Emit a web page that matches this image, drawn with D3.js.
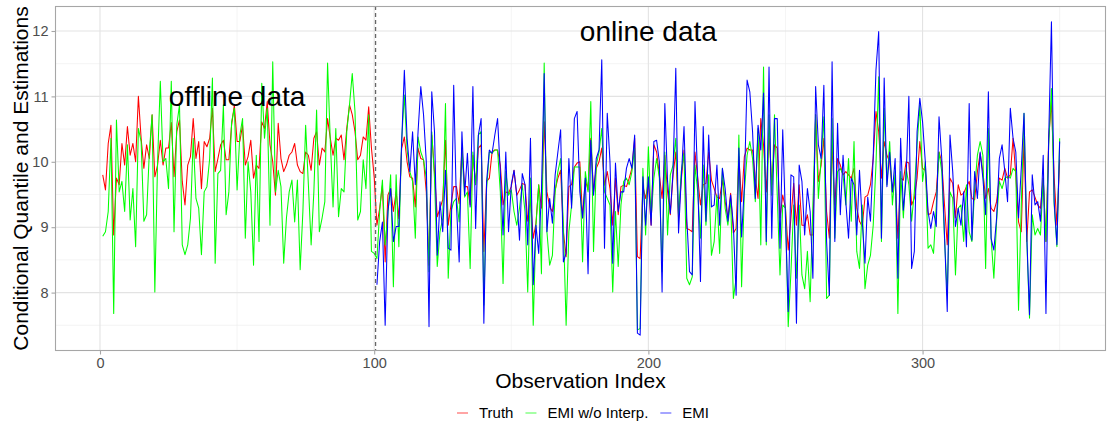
<!DOCTYPE html>
<html>
<head>
<meta charset="utf-8">
<script src="https://cdn.jsdelivr.net/npm/d3@7"></script>
<style>
  html, body { margin: 0; padding: 0; background: #fff; }
  svg { display: block; font-family: "Liberation Sans", Arial, Helvetica, sans-serif; }
</style>
</head>
<body>
<svg id="chart" width="1108" height="428"></svg>
<script>
// ---------------- data ----------------
const truth = [
  9.80, 9.57, 10.28, 10.56, 8.88, 9.75, 9.65, 10.28, 9.95, 10.54,
  10.10, 10.28, 10.00, 11.00, 10.36, 9.90, 10.26, 10.05, 10.72, 9.77,
  9.95, 10.33, 9.95, 10.21, 10.21, 10.60, 9.77, 10.46, 10.64, 9.70,
  9.34, 9.95, 10.08, 10.66, 10.05, 10.31, 9.59, 10.31, 10.23, 10.36,
  10.82, 9.85, 10.05, 10.26, 10.33, 10.03, 10.03, 10.56, 10.87, 10.31,
  10.31, 10.56, 9.95, 10.08, 10.33, 9.75, 9.95, 9.90, 10.61, 10.51,
  10.92, 10.26, 10.00, 9.49, 10.59, 10.05, 9.85, 9.95, 10.10, 10.15,
  10.28, 9.95, 9.85, 9.82, 10.15, 10.10, 9.87, 10.36, 10.46, 9.95,
  10.21, 10.15, 10.66, 10.36, 10.10, 10.36, 10.33, 10.41, 10.03, 10.51,
  10.87, 10.72, 10.46, 10.03, 10.10, 10.38, 10.33, 10.84, 10.21, 9.77,
  9.03, 9.29, 9.64, 8.47, 9.49, 9.59, 9.24, 9.54, 9.13, 10.20,
  10.38, 10.00, 9.77, 9.75, 9.31, 10.21, 10.05, 10.03, 9.54, 8.42,
  10.41, 9.85, 9.16, 9.29, 9.42, 10.33, 9.03, 9.34, 9.62, 9.62,
  9.36, 10.21, 9.62, 9.62, 9.34, 10.10, 9.65, 10.21, 10.26, 8.63,
  9.70, 9.75, 10.15, 10.18, 10.18, 9.95, 9.34, 9.54, 9.52, 9.62,
  9.87, 9.49, 9.57, 9.67, 9.65, 9.09, 9.44, 8.83, 9.06, 9.65,
  9.29, 10.61, 9.54, 9.31, 9.24, 9.57, 9.75, 9.87, 8.93, 8.55,
  9.62, 9.65, 9.92, 9.98, 10.00, 9.14, 9.72, 9.57, 10.36, 9.54,
  9.90, 10.00, 10.21, 9.64, 9.85, 9.59, 9.03, 9.75, 9.19, 9.62,
  9.64, 9.62, 9.75, 9.90, 10.36, 8.55, 8.52, 9.62, 9.44, 9.70,
  9.03, 10.26, 10.15, 9.80, 9.44, 10.10, 9.54, 9.19, 9.80, 10.15,
  9.14, 9.72, 10.18, 8.98, 8.96, 8.93, 10.15, 9.75, 9.34, 9.65,
  9.67, 10.15, 9.72, 9.59, 9.46, 9.44, 9.72, 9.39, 9.14, 9.52,
  8.91, 8.98, 10.08, 9.39, 10.08, 10.21, 10.18, 10.18, 9.75, 9.44,
  10.66, 10.26, 9.54, 10.44, 9.65, 10.26, 10.21, 9.14, 9.49, 9.29,
  8.65, 9.14, 9.67, 9.03, 9.65, 9.03, 9.03, 9.19, 8.88, 8.88,
  10.72, 9.70, 9.95, 10.36, 9.24, 8.83, 10.26, 9.34, 10.05, 9.95,
  9.80, 9.85, 9.80, 9.75, 9.90, 9.29, 9.09, 9.01, 9.46, 9.49,
  9.65, 10.05, 10.77, 10.46, 9.75, 10.31, 10.10, 10.00, 9.54, 9.75,
  8.83, 9.75, 9.72, 10.00, 9.98, 9.34, 9.44, 9.75, 10.31, 9.90,
  9.87, 9.19, 9.21, 9.39, 9.54, 10.15, 10.00, 9.34, 8.73, 9.75,
  9.67, 9.14, 9.65, 9.49, 9.52, 9.62, 9.70, 9.44, 9.42, 9.85,
  10.13, 9.85, 9.44, 9.59, 9.29, 9.24, 9.39, 9.75, 9.72, 9.90,
  9.75, 9.80, 10.36, 9.80, 9.08, 8.93, 10.36, 8.78, 9.54, 9.57,
  9.46, 9.34, 9.29, 9.75, 8.78, 10.36, 10.92, 9.75, 9.03, 10.03
];

const emiNoInterp = [
  8.86, 8.93, 9.24, 10.36, 7.68, 10.64, 9.54, 9.70, 9.24, 10.26,
  9.11, 9.59, 8.70, 10.51, 10.31, 9.09, 9.19, 10.15, 10.72, 8.01,
  10.00, 11.23, 10.00, 10.05, 9.59, 11.23, 8.93, 10.56, 10.87, 8.73,
  8.58, 8.73, 9.14, 10.36, 9.44, 9.29, 8.58, 9.54, 9.62, 10.05,
  11.28, 8.45, 9.82, 9.87, 10.87, 9.19, 9.54, 10.61, 10.82, 9.57,
  10.41, 10.66, 8.83, 10.00, 9.54, 8.42, 10.10, 8.78, 11.20, 10.36,
  10.82, 9.03, 11.53, 9.54, 9.87, 9.62, 8.45, 9.14, 9.54, 9.72,
  9.08, 9.72, 8.35, 9.24, 10.56, 9.65, 8.73, 9.54, 10.79, 8.93,
  9.14, 9.39, 11.51, 10.31, 9.31, 10.51, 9.16, 9.59, 9.54, 10.46,
  10.87, 11.35, 10.77, 9.11, 9.24, 10.03, 9.59, 10.72, 8.63, 8.60,
  8.52, 9.24, 9.72, 8.73, 9.19, 9.80, 8.09, 9.80, 8.70, 10.31,
  11.02, 10.18, 9.85, 9.70, 8.83, 10.38, 10.15, 10.03, 9.75, 8.32,
  10.46, 9.75, 8.40, 8.93, 9.14, 10.89, 8.22, 9.24, 9.39, 9.44,
  9.08, 10.18, 9.46, 9.54, 8.37, 10.15, 9.65, 10.41, 10.46, 7.81,
  9.59, 10.15, 10.13, 10.18, 10.18, 9.54, 8.14, 9.85, 9.49, 9.57,
  9.24, 9.03, 9.29, 9.65, 9.24, 8.01, 9.75, 7.50, 9.03, 9.65,
  8.29, 11.51, 8.93, 8.42, 8.57, 9.54, 9.85, 10.05, 9.03, 7.50,
  8.93, 9.34, 9.92, 9.92, 9.92, 8.47, 9.85, 9.54, 10.92, 8.63,
  9.95, 10.15, 10.51, 9.54, 9.44, 9.34, 8.01, 9.24, 8.40, 9.34,
  9.70, 9.75, 9.65, 9.85, 10.21, 7.43, 7.45, 9.90, 8.88, 10.23,
  9.14, 9.75, 10.05, 9.75, 8.32, 10.15, 8.88, 9.80, 9.95, 10.36,
  9.19, 9.85, 10.13, 8.22, 8.12, 8.24, 9.95, 9.54, 8.83, 9.95,
  9.03, 9.80, 8.57, 8.78, 9.49, 8.60, 9.90, 9.29, 9.03, 9.44,
  7.91, 8.22, 10.41, 8.09, 9.54, 10.10, 10.31, 10.05, 9.39, 10.51,
  8.73, 11.45, 8.73, 10.72, 9.49, 10.72, 9.49, 8.27, 9.34, 9.29,
  7.48, 8.32, 9.34, 8.22, 9.34, 8.27, 8.06, 8.63, 7.86, 9.34,
  10.72, 9.44, 10.05, 10.69, 7.91, 7.96, 10.66, 8.83, 9.85, 9.90,
  9.80, 9.34, 10.05, 9.09, 10.31, 8.63, 8.37, 9.34, 8.06, 8.42,
  8.57, 9.03, 9.95, 11.30, 8.78, 10.82, 9.65, 10.31, 9.34, 9.85,
  7.68, 9.85, 9.14, 9.90, 9.65, 9.09, 9.54, 10.26, 10.87, 9.70,
  10.00, 8.68, 8.73, 8.60, 9.34, 10.15, 9.85, 8.83, 7.96, 9.54,
  9.44, 8.27, 9.29, 9.34, 8.78, 9.65, 8.93, 8.78, 9.59, 10.10,
  10.31, 10.10, 8.37, 10.51, 8.83, 8.22, 9.09, 9.70, 9.59, 9.75,
  9.77, 9.75, 9.90, 9.85, 7.73, 9.34, 10.74, 8.83, 7.61, 9.19,
  8.88, 8.98, 8.88, 9.75, 8.78, 10.26, 11.12, 9.34, 8.70, 10.36
];

// EMI is only available for the online data (observations 101..350)
const emiStart = 101;
const emi = [
  8.12, 8.78, 9.08, 7.50, 9.24, 9.59, 8.78, 9.01, 9.01, 10.26,
  11.40, 10.36, 9.85, 10.46, 9.65, 10.46, 11.15, 10.72, 10.00, 7.48,
  11.07, 10.46, 8.57, 9.39, 8.93, 9.87, 8.68, 8.65, 11.17, 9.34,
  8.47, 10.46, 9.49, 10.13, 9.31, 11.15, 8.98, 10.41, 10.66, 7.53,
  9.70, 10.18, 10.13, 10.41, 10.66, 9.85, 8.88, 10.15, 8.93, 9.65,
  9.87, 9.49, 8.80, 9.82, 9.65, 8.73, 10.36, 8.12, 9.03, 8.60,
  9.54, 11.35, 8.93, 9.44, 9.06, 9.80, 10.15, 10.49, 8.47, 8.60,
  10.05, 9.29, 10.66, 10.77, 9.54, 9.14, 9.75, 8.29, 10.33, 9.49,
  10.05, 10.18, 11.56, 8.68, 10.74, 10.00, 8.45, 9.98, 9.24, 9.54,
  9.54, 9.90, 10.05, 9.90, 10.41, 7.38, 7.35, 9.77, 9.03, 9.77,
  9.03, 10.31, 10.33, 10.00, 8.01, 10.89, 9.70, 9.21, 9.85, 11.43,
  8.91, 9.75, 10.54, 9.14, 8.32, 8.27, 10.92, 9.70, 8.17, 10.54,
  9.09, 10.41, 9.31, 9.34, 9.95, 9.03, 9.90, 9.59, 9.09, 9.49,
  9.03, 7.96, 10.21, 8.85, 9.62, 11.25, 11.07, 10.46, 9.44, 10.56,
  10.18, 11.05, 8.78, 11.45, 8.83, 10.66, 10.66, 8.68, 10.49, 9.14,
  7.71, 9.80, 9.77, 7.53, 9.95, 9.70, 8.88, 9.59, 9.24, 8.22,
  11.15, 10.26, 10.05, 11.17, 8.78, 7.96, 11.53, 8.78, 10.59, 9.19,
  10.10, 9.39, 8.83, 9.75, 9.65, 8.88, 9.87, 9.09, 8.45, 9.46,
  9.09, 10.08, 11.40, 11.99, 8.83, 11.28, 9.62, 10.15, 9.54, 10.05,
  8.22, 10.36, 9.26, 9.75, 11.00, 8.37, 8.63, 10.46, 10.97, 10.61,
  10.00, 9.24, 8.98, 9.24, 9.01, 10.69, 10.05, 8.88, 7.71, 10.41,
  9.85, 9.01, 9.29, 9.03, 9.54, 8.70, 10.89, 8.80, 9.85, 9.44,
  10.15, 9.75, 9.19, 11.07, 8.83, 8.65, 9.14, 10.05, 10.26, 9.85,
  9.39, 10.82, 10.36, 10.15, 9.14, 9.90, 10.74, 8.88, 7.66, 9.80,
  9.34, 9.39, 9.09, 10.10, 7.68, 10.36, 12.14, 9.39, 8.73, 10.31
];

const seriesNames = ["Truth", "EMI w/o Interp.", "EMI"];
const seriesColors = ["#FF0000", "#00FF00", "#0000FF"];
const xTicks = [0, 100, 200, 300];
const xMinor = [50, 150, 250, 350];
const yTicks = [8, 9, 10, 11, 12];
const yMinor = [7.5, 8.5, 9.5, 10.5, 11.5];
const splitAt = 100.5;
const annotations = [
  { label: "offline data", x: 50, y: 11 },
  { label: "online data", x: 200, y: 12 }
];
const xTitle = "Observation Index";
const yTitle = "Conditional Quantile and Estimations";

// ---------------- layout ----------------
const svg = d3.select("#chart");
const panel = { left: 55, right: 1106, top: 6, bottom: 351 };

const x = d3.scaleLinear().domain([-16.41, 366.9]).range([panel.left, panel.right]);
const y = d3.scaleLinear().domain([7.107, 12.382]).range([panel.bottom, panel.top]);

const series = [
  { name: seriesNames[0], color: seriesColors[0], pts: truth.map((v, i) => [i + 1, v]) },
  { name: seriesNames[1], color: seriesColors[1], pts: emiNoInterp.map((v, i) => [i + 1, v]) },
  { name: seriesNames[2], color: seriesColors[2], pts: emi.map((v, i) => [i + emiStart, v]) }
];

// panel background & grid
const grid = svg.append("g");
grid.selectAll(".xminor").data(xMinor).join("line")
  .attr("x1", d => x(d)).attr("x2", d => x(d))
  .attr("y1", panel.top).attr("y2", panel.bottom)
  .attr("stroke", "#EDEDED").attr("stroke-width", 0.6);
grid.selectAll(".yminor").data(yMinor).join("line")
  .attr("y1", d => y(d)).attr("y2", d => y(d))
  .attr("x1", panel.left).attr("x2", panel.right)
  .attr("stroke", "#EDEDED").attr("stroke-width", 0.6);
grid.selectAll(".xmajor").data(xTicks).join("line")
  .attr("x1", d => x(d)).attr("x2", d => x(d))
  .attr("y1", panel.top).attr("y2", panel.bottom)
  .attr("stroke", "#E3E3E3").attr("stroke-width", 1.1);
grid.selectAll(".ymajor").data(yTicks).join("line")
  .attr("y1", d => y(d)).attr("y2", d => y(d))
  .attr("x1", panel.left).attr("x2", panel.right)
  .attr("stroke", "#E3E3E3").attr("stroke-width", 1.1);

// lines
const line = d3.line().x(d => x(d[0])).y(d => y(d[1]));
const clip = svg.append("clipPath").attr("id", "clip").append("rect")
  .attr("x", panel.left).attr("y", panel.top)
  .attr("width", panel.right - panel.left).attr("height", panel.bottom - panel.top);
const lines = svg.append("g").attr("clip-path", "url(#clip)");
series.forEach(s => {
  lines.append("path").datum(s.pts)
    .attr("d", line)
    .attr("fill", "none")
    .attr("stroke", s.color)
    .attr("stroke-width", 1.05)
    .attr("stroke-linejoin", "round");
});

// dashed split line
svg.append("line")
  .attr("x1", x(splitAt)).attr("x2", x(splitAt))
  .attr("y1", panel.top).attr("y2", panel.bottom)
  .attr("stroke", "#666").attr("stroke-width", 1.3)
  .attr("stroke-dasharray", "4,3");

// annotations
svg.append("g").selectAll("text").data(annotations).join("text")
  .attr("x", d => x(d.x)).attr("y", d => y(d.y))
  .attr("dy", "0.36em")
  .attr("text-anchor", "middle")
  .attr("font-size", 28).attr("fill", "#000")
  .text(d => d.label);

// panel border
svg.append("rect")
  .attr("x", panel.left + 0.5).attr("y", panel.top + 0.5)
  .attr("width", panel.right - panel.left - 1).attr("height", panel.bottom - panel.top - 1)
  .attr("fill", "none").attr("stroke", "#A6A6A6").attr("stroke-width", 1.1);

// axes
const xAxis = svg.append("g").attr("transform", `translate(0,${panel.bottom})`)
  .call(d3.axisBottom(x).tickValues(xTicks).tickSize(3.5).tickPadding(3).tickFormat(d3.format("d")));
const yAxis = svg.append("g").attr("transform", `translate(${panel.left},0)`)
  .call(d3.axisLeft(y).tickValues(yTicks).tickSize(3.5).tickPadding(3).tickFormat(d3.format("d")));
[xAxis, yAxis].forEach(a => {
  a.select(".domain").remove();
  a.selectAll(".tick line").attr("stroke", "#A6A6A6").attr("stroke-width", 1.1);
  a.selectAll(".tick text").attr("fill", "#4D4D4D").attr("font-size", 14.5)
    .attr("font-family", '"Liberation Sans", Arial, Helvetica, sans-serif');
});

// axis titles
svg.append("text")
  .attr("x", (panel.left + panel.right) / 2).attr("y", 388)
  .attr("text-anchor", "middle").attr("font-size", 21).attr("fill", "#000")
  .text(xTitle);
svg.append("text")
  .attr("transform", `translate(28,${(panel.top + panel.bottom) / 2}) rotate(-90)`)
  .attr("text-anchor", "middle").attr("font-size", 21).attr("fill", "#000")
  .text(yTitle);

// legend
const legend = svg.append("g");
let lx = 457;
const ly = 413;
series.forEach(s => {
  legend.append("line")
    .attr("x1", lx).attr("x2", lx + 11).attr("y1", ly).attr("y2", ly)
    .attr("stroke", s.color).attr("stroke-opacity", 0.55).attr("stroke-width", 1.3);
  const t = legend.append("text")
    .attr("x", lx + 22).attr("y", ly).attr("dy", "0.36em")
    .attr("font-size", 15).attr("fill", "#000")
    .text(s.name);
  lx = lx + 22 + t.node().getComputedTextLength() + 12;
});
</script>
</body>
</html>
